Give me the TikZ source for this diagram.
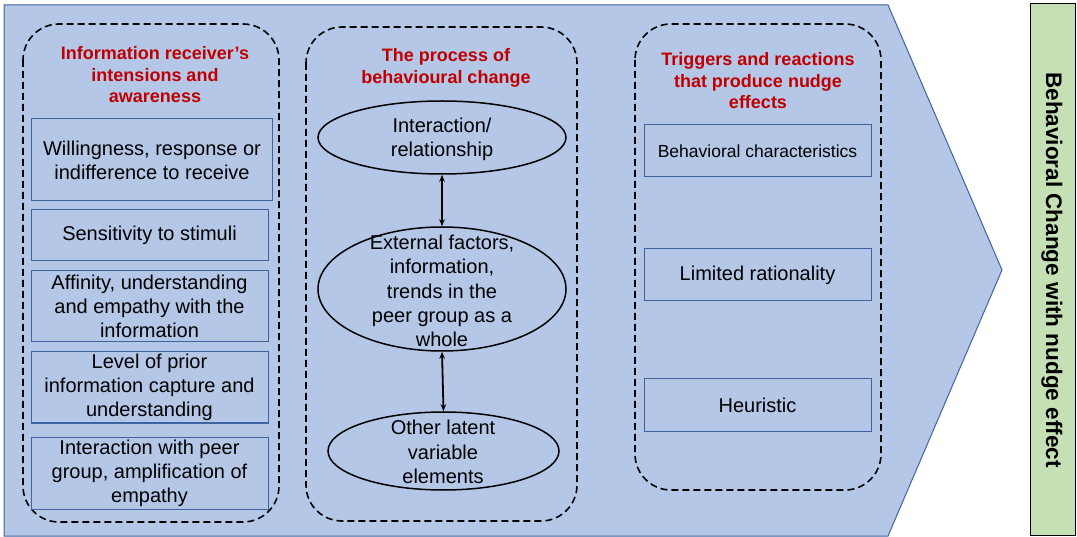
\documentclass[tikz,border=0pt]{standalone}
\usepackage{fontspec}
\setmainfont{Liberation Sans}
\usetikzlibrary{shapes.geometric,arrows.meta}
\definecolor{bgblue}{HTML}{B4C7E7}
\definecolor{edgeblue}{HTML}{3F62A0}
\definecolor{titlered}{HTML}{C00000}
\definecolor{barg}{HTML}{C5E0B4}
\tikzset{
  groupbox/.style={draw=black, line width=1.6pt, dash pattern=on 7pt off 4pt, rounded corners=36pt},
  itembox/.style={draw=edgeblue, line width=1pt, rectangle, inner sep=0pt, align=center, font=\fontsize{20}{24}\selectfont},
  grouptitle/.style={text=titlered, font=\bfseries\fontsize{18}{21.5}\selectfont, align=center, inner sep=0pt},
  ell/.style={draw=black, line width=1.5pt, ellipse, inner sep=0pt},
  elltext/.style={align=center, inner sep=0pt, font=\fontsize{20}{24.2}\selectfont},
  link/.style={{Stealth[length=7pt,width=5.5pt]}-{Stealth[length=7pt,width=5.5pt]}, line width=1.8pt}
}
\begin{document}
\begin{tikzpicture}[x=1pt,y=-1pt]
\useasboundingbox (0,0) rectangle (1077,537);
% big arrow background
\draw[fill=bgblue, draw=edgeblue, line width=1pt] (4,5) -- (888,5) -- (1002,270) -- (888,536) -- (4,536) -- cycle;
% group boxes
\draw[groupbox] (23,24) rectangle (279,522);
\draw[groupbox] (306,27) rectangle (577,521);
\draw[groupbox] (635,24) rectangle (881,490);
% titles
\node[grouptitle] (t1) at (155,75) {Information receiver’s\\intensions and\\awareness};
\node[grouptitle] (t2) at (446,68) {The process of\\behavioural change};
\node[grouptitle] (t3) at (758,81) {Triggers and reactions\\that produce nudge\\effects};
% left boxes
\node[itembox, minimum width=241, minimum height=82] (l1) at (152,160) {Willingness, response or\\indifference to receive};
\node[itembox, minimum width=237, minimum height=51] (l2) at (149.5,235.5) {Sensitivity to stimuli};
\node[itembox, minimum width=237, minimum height=71] (l3) at (149.5,306.5) {Affinity, understanding\\and empathy with the\\information};
\node[itembox, minimum width=237, minimum height=71] (l4) at (149.5,387.5) {Level of prior\\information capture and\\understanding};
\node[itembox, minimum width=237, minimum height=72] (l5) at (149.5,473) {Interaction with peer\\group, amplification of\\empathy};
% ellipses
\node[ell, minimum width=248, minimum height=73] (e1) at (442,137.5) {};
\node[elltext] (e1t) at (442,139) {Interaction/\\relationship};
\node[ell, minimum width=248, minimum height=124] (e2) at (442,289) {};
\node[elltext] (e2t) at (442,291) {External factors,\\information,\\trends in the\\peer group as a\\whole};
\node[ell, minimum width=231, minimum height=78] (e3) at (443.5,451) {};
\node[elltext] (e3t) at (443,452) {Other latent\\variable\\elements};
\draw[link] (e1.south) -- (e2.north);
\draw[link] (e2.south) -- (e3.north);
% right boxes
\node[itembox, minimum width=227, minimum height=52, font=\fontsize{17.5}{21}\selectfont] (r1) at (757.5,151) {Behavioral characteristics};
\node[itembox, minimum width=227, minimum height=52] (r2) at (757.5,275) {Limited rationality};
\node[itembox, minimum width=227, minimum height=52] (r3) at (757.5,405) {Heuristic};
% green bar
\node[draw=black, line width=1pt, fill=barg, minimum width=45, minimum height=531, inner sep=0pt] (bar) at (1052.5,269.5) {};
\node[rotate=-90, font=\bfseries\fontsize{22.5}{26}\selectfont, inner sep=0pt] (bart) at (1052,270) {Behavioral Change with nudge effect};
\end{tikzpicture}
\end{document}
